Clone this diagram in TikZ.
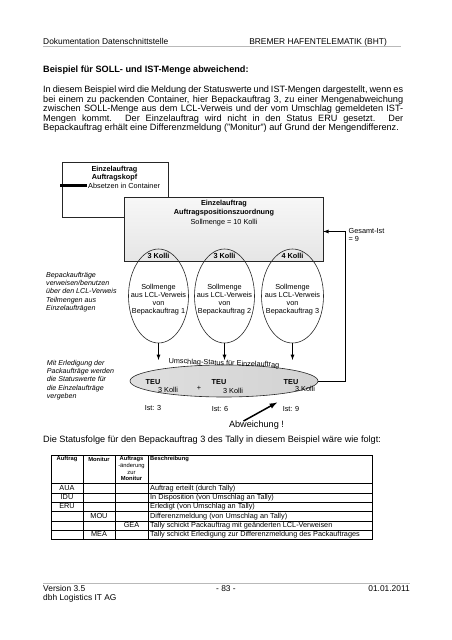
\documentclass[tikz,border=0pt]{standalone}
\usepackage{fontspec}
\setmainfont{Liberation Sans}
\usepackage{tikz}
\usetikzlibrary{shapes,arrows,positioning}
\setlength{\lineskiplimit}{-20pt}
\tikzstyle{bodytext} = [inner sep=0pt, font=\fontsize{9.15}{7.9}\selectfont]
\tikzstyle{headtext} = [inner sep=0pt, font=\fontsize{8.4}{9.5}\selectfont]
\tikzstyle{diatext} = [inner sep=0pt, align=center, font=\fontsize{7.3}{8}\selectfont]
\tikzstyle{diabold} = [inner sep=0pt, align=center, font=\fontsize{7.3}{8}\selectfont\bfseries]
\tikzstyle{notetext} = [inner sep=0pt, align=left, anchor=north west,
    font=\fontsize{7.1}{8.3}\selectfont\itshape]
\tikzstyle{block} = [rectangle, draw=black!85, line width=0.6pt, inner sep=0pt]
\tikzstyle{portion} = [ellipse, draw=black!85, line width=0.6pt,
    minimum width=60pt, minimum height=94pt, inner sep=0pt]
\tikzstyle{statusring} = [ellipse, draw=black!85, line width=0.6pt,
    minimum width=188pt, minimum height=32pt,
    left color=gray!25, middle color=gray!5, right color=gray!35]
\tikzstyle{arrow} = [draw, -latex, line width=0.8pt]
\tikzstyle{bigarrow} = [draw, -latex, line width=1.5pt]
\tikzstyle{tabline} = [draw, line width=0.5pt]
\tikzstyle{pagerule} = [draw, gray!55, line width=0.7pt]
\tikzstyle{tabhead} = [inner sep=0pt, align=center, font=\fontsize{5.8}{6.6}\selectfont\bfseries]
\tikzstyle{tabtext} = [inner sep=0pt, text height=5.3pt, text depth=1.5pt,
    font=\fontsize{7.3}{8}\selectfont]

\begin{document}
\begin{tikzpicture}[x=1pt, y=-1pt]
    \useasboundingbox (0,0) rectangle (452,640);
    % Page header
    \node [headtext, anchor=base west] (docTitle) at (43,44) {Dokumentation Datenschnittstelle};
    \node [headtext, anchor=base east] (docProject) at (387,44) {BREMER HAFENTELEMATIK (BHT)};
    \path [pagerule] (43,46.5) -- (401,46.5);
    % Intro text
    \node [bodytext, anchor=base west, font=\fontsize{9.15}{7.9}\selectfont\bfseries] (exampleTitle) at (43,72.8)
        {Beispiel für SOLL- und IST-Menge abweichend:};
    \node [bodytext, anchor=north west, text width=360pt, align=justify] (introText) at (43,86)
        {In diesem Beispiel wird die Meldung der Statuswerte und IST-Mengen dargestellt, wenn es\linebreak
        bei einem zu packenden Container, hier Bepackauftrag 3, zu einer Mengenabweichung\linebreak
        zwischen SOLL-Menge aus dem LCL-Verweis und der vom Umschlag gemeldeten IST-\linebreak
        Mengen kommt. Der Einzelauftrag wird nicht in den Status ERU gesetzt. Der\linebreak
        Bepackauftrag erhält eine Differenzmeldung ("Monitur") auf Grund der Mengendifferenz.};
    % Place nodes
    \node [block, fill=white, minimum width=106pt, minimum height=55pt] (kopfBox) at (115,189.5) {};
    \node [diabold, anchor=north] (kopfTitle) at (114.5,166.5) {Einzelauftrag\\Auftragskopf};
    \node [fill=black, inner sep=0pt, minimum width=27pt, minimum height=3pt] (kopfBar) at (73.5,185.5) {};
    \node [diatext, anchor=west] (kopfNote) at (88,185.5) {Absetzen in Container};
    \node [block, top color=gray!6, bottom color=gray!20, minimum width=199pt, minimum height=64pt] (posBox) at (223.5,229) {};
    \node [diabold, anchor=north] (posTitle) at (224,200) {Einzelauftrag\\[1pt]Auftragspositionszuordnung};
    \node [diatext] (sollTotal) at (224,223) {Sollmenge = 10 Kolli};
%
    \node [portion] (portionA) at (158.5,296) {};
    \node [portion, right of=portionA, node distance=66pt] (portionB) {};
    \node [portion, right of=portionB, node distance=68pt, minimum width=62pt] (portionC) {};
    \node [diabold] (kolliA) at ([yshift=-7pt]portionA.north) {3 Kolli};
    \node [diabold] (kolliB) at ([yshift=-7pt]portionB.north) {3 Kolli};
    \node [diabold] (kolliC) at ([yshift=-7pt]portionC.north) {4 Kolli};
    \node [diatext] (sollA) at ([yshift=-4pt]portionA.center) {Sollmenge\\aus LCL-Verweis\\von\\Bepackauftrag 1};
    \node [diatext] (sollB) at ([yshift=-4pt]portionB.center) {Sollmenge\\aus LCL-Verweis\\von\\Bepackauftrag 2};
    \node [diatext] (sollC) at ([yshift=-4pt]portionC.center) {Sollmenge\\aus LCL-Verweis\\von\\Bepackauftrag 3};
    \node [notetext] (noteBepack) at (46,272)
        {Bepackaufträge\\verweisen/benutzen\\über den LCL-Verweis\\Teilmengen aus\\Einzelaufträgen};
%
    \node [statusring] (statusRing) at (224,381) {};
    \node [diatext, rotate=-2] (statusLabel) at (224,363.5) {Umschlag-Status für Einzelauftrag};
    \node [diabold] (teuA) at (153,382) {TEU};
    \node [diatext] (teuKolliA) at (168,390) {3 Kolli};
    \node [diatext] (plusSign) at (199,388) {+};
    \node [diabold] (teuB) at (219,382) {TEU};
    \node [diatext] (teuKolliB) at (233,390.5) {3 Kolli};
    \node [diabold] (teuC) at (291,382) {TEU};
    \node [diatext] (teuKolliC) at (305,388.5) {3 Kolli};
    \node [diatext] (istA) at (153,407.5) {Ist: 3};
    \node [diatext] (istB) at (220,409) {Ist: 6};
    \node [diatext] (istC) at (291,408.5) {Ist: 9};
    \node [notetext] (noteErledigung) at (46.7,360)
        {Mit Erledigung der\\Packaufträge werden\\die Statuswerte für\\die Einzelaufträge\\vergeben};
    \node [bodytext] (abweichung) at (256.5,425.5) {Abweichung !};
    \node [diatext, align=left, anchor=north west] (gesamtLabel) at (348.5,228.3) {Gesamt-Ist\\= 9};
    \coordinate (abwTip) at (277,402.5);
    \coordinate (gesamtCorner) at (345,231.5);
    % Connectors
    \path [arrow] (portionA.south) -- (portionA.south |- statusLabel.north);
    \path [arrow] (portionB.south) -- (portionB.south |- statusLabel.north);
    \path [arrow] (portionC.south) -- (portionC.south |- statusLabel.north);
    \path [arrow] (statusRing.east) -| (gesamtCorner) -- (gesamtCorner -| posBox.east);
    \path [bigarrow] ([xshift=-13pt]abweichung.north) -- (abwTip);
    % Status table
    \node [bodytext, anchor=base west] (statusfolgeText) at (43,442.3)
        {Die Statusfolge für den Bepackauftrag 3 des Tally in diesem Beispiel wäre wie folgt:};
    \foreach \y in {455,483.5,492.9,502.2,511.6,520.9,530.3,539.6}
        \path [tabline] (51,\y) -- (372,\y);
    \foreach \x in {51,83,115,148,372}
        \path [tabline] (\x,455) -- (\x,539.6);
    \node [tabhead] (hdAuftrag) at (67,459) {Auftrag};
    \node [tabhead] (hdMonitur) at (99,459) {Monitur};
    \node [tabhead, anchor=north] (hdAenderung) at (131.5,456.5)
        {Auftrags\\{\mdseries -änderung}\\{\mdseries zur}\\Monitur};
    \node [tabhead, anchor=west] (hdBeschreibung) at (150,459) {Beschreibung};
    \node [tabtext] (rowAua) at (67,488.2) {AUA};
    \node [tabtext] (rowIdu) at (67,497.5) {IDU};
    \node [tabtext] (rowEru) at (67,506.9) {ERU};
    \node [tabtext] (rowMou) at (99,516.2) {MOU};
    \node [tabtext] (rowGea) at (131.5,525.6) {GEA};
    \node [tabtext] (rowMea) at (99,535) {MEA};
    \node [tabtext, anchor=west] (descAua) at (150,488.2) {Auftrag erteilt (durch Tally)};
    \node [tabtext, anchor=west] (descIdu) at (150,497.5) {In Disposition (von Umschlag an Tally)};
    \node [tabtext, anchor=west] (descEru) at (150,506.9) {Erledigt (von Umschlag an Tally)};
    \node [tabtext, anchor=west] (descMou) at (150,516.2) {Differenzmeldung (von Umschlag an Tally)};
    \node [tabtext, anchor=west] (descGea) at (150,525.6) {Tally schickt Packauftrag mit geänderten LCL-Verweisen};
    \node [tabtext, anchor=west] (descMea) at (150,535) {Tally schickt Erledigung zur Differenzmeldung des Packauftrages};
    % Page footer
    \path [pagerule] (43,583.5) -- (410,583.5);
    \node [headtext, anchor=base west] (footVersion) at (43,591) {Version 3.5};
    \node [headtext, anchor=base] (footPage) at (226,591) {- 83 -};
    \node [headtext, anchor=base east] (footDate) at (410,591) {01.01.2011};
    \node [headtext, anchor=base west] (footCompany) at (43,600.5) {dbh Logistics IT AG};
\end{tikzpicture}
\end{document}
